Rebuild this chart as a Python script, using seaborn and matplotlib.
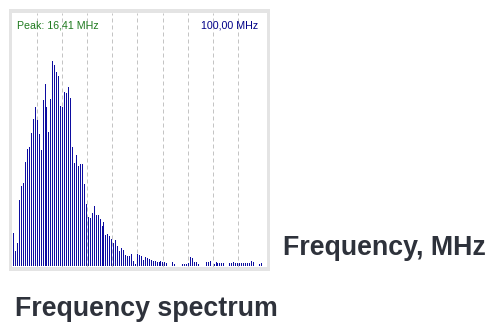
import matplotlib
matplotlib.use("Agg")
import matplotlib.pyplot as plt
from matplotlib.patches import Rectangle
import pandas as pd
import seaborn as sns

# Spectrum analyser readout: 128 bins spanning 0-100 MHz (bin 0 / DC not shown)
span_mhz = 100.0
n_bins = 128
bin_index = list(range(1, 128))
amplitude = [
    33, 15, 23, 66, 80, 83, 104, 117, 119, 133,
    147, 159, 146, 132, 116, 166, 182, 159, 134, 167,
    205, 201, 194, 190, 160, 159, 174, 173, 179, 168,
    119, 103, 111, 100, 102, 102, 82, 62, 49, 48,
    53, 60, 51, 51, 47, 40, 44, 31, 32, 30,
    27, 23, 26, 20, 15, 18, 16, 11, 10, 10,
    12, 5, 2.5, 12, 11, 10, 6, 9, 8, 7,
    6, 5, 5, 4, 4, 5, 4, 4, 3, 0,
    0, 4, 2, 0, 0, 0, 2, 2, 2, 3,
    9, 8, 4, 4, 2, 0, 0, 0, 4, 4,
    5, 0, 2, 4, 3, 3, 3, 3, 0, 0,
    3.5, 3.5, 4, 3, 3, 3, 3, 3, 3, 3,
    3.5, 5, 4.5, 0, 0, 2.5, 3.5,
]
grid_mhz = [10, 20, 30, 40, 50, 60, 70, 80, 90]

bin_width = span_mhz / n_bins
df = pd.DataFrame({
    "freq": [k * bin_width for k in bin_index],
    "amp": amplitude,
})
peak_freq = df.loc[df["amp"].idxmax(), "freq"]

W, H, DPI = 495, 330, 100
sns.set_theme(style="white")
plt.rcParams["font.family"] = ["Liberation Sans", "DejaVu Sans"]

fig = plt.figure(figsize=(W / DPI, H / DPI), dpi=DPI)
fig.patch.set_facecolor("white")

def fx(px):
    return px / W

def fy(py):
    return 1 - py / H

# Grey instrument frame around the display
fig.patches.append(Rectangle((fx(9), fy(271)), fx(261), 262 / H,
                             transform=fig.transFigure, facecolor="#e4e4e4",
                             edgecolor="none", zorder=-1))

ax_left, ax_right, ax_top, ax_bottom = 12, 267, 13, 267
ax = fig.add_axes([fx(ax_left), fy(ax_bottom), (ax_right - ax_left) / W,
                   (ax_bottom - ax_top) / H])
ax.set_facecolor("white")
ax.set_zorder(1)

zero_px = 11.6
px_per_mhz = 2.516
xlim = ((ax_left - zero_px) / px_per_mhz, (ax_right - zero_px) / px_per_mhz)

for g in grid_mhz:
    ax.axvline(g, color="#c4c4c4", lw=0.72, ls=(0, (4, 3)), zorder=0)

sns.barplot(data=df, x="freq", y="amp", native_scale=True, width=0.5,
            color="#0c0ca0", saturation=1, errorbar=None, linewidth=0,
            edgecolor="none", ax=ax, zorder=2)

ax.set_xlim(*xlim)
ax.set_ylim(-1, 253)
ax.set_xticks([])
ax.set_yticks([])
ax.set_xlabel("")
ax.set_ylabel("")
for s in ax.spines.values():
    s.set_visible(False)

peak_label = f"Peak: {peak_freq:.2f} MHz".replace(".", ",")
span_label = f"{span_mhz:.2f} MHz".replace(".", ",")
fig.text(fx(17), fy(25), peak_label, color="#1f7a1f", fontsize=7.7,
         ha="left", va="center", zorder=3)
fig.text(fx(258), fy(25), span_label, color="#000088", fontsize=7.7,
         ha="right", va="center", zorder=3)

fig.text(fx(283), fy(255), "Frequency, MHz", color="#2e323b", fontsize=19.3,
         fontweight="bold", ha="left", va="baseline")
fig.text(fx(15), fy(316.5), "Frequency spectrum", color="#2e323b",
         fontsize=19.3, fontweight="bold", ha="left", va="baseline")

fig.savefig("out.png", dpi=DPI)
